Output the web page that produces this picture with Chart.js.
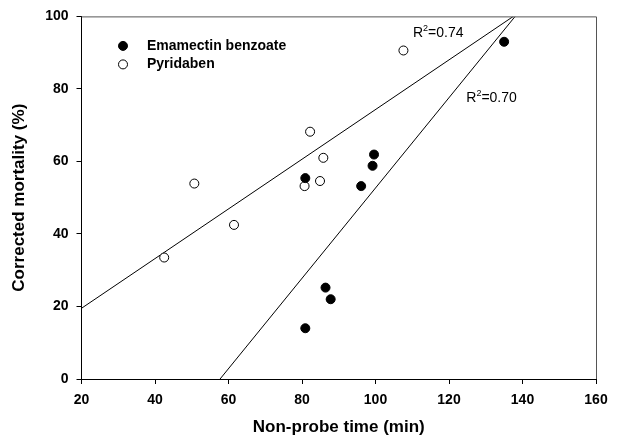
<!DOCTYPE html>
<html>
<head>
<meta charset="utf-8">
<script src="https://cdn.jsdelivr.net/npm/chart.js@4.4.1/dist/chart.umd.min.js"></script>
<style>
  html, body { margin: 0; padding: 0; background: #fff; }
</style>
</head>
<body>
<canvas id="chart" width="619" height="439"></canvas>
<script>
// values
const emamectinX = [80.9, 80.9, 86.4, 87.8, 96.1, 99.2, 99.6, 135.0];
const emamectinY = [55.4, 14.0, 25.2, 22.0, 53.2, 58.8, 61.9, 93.0];
const pyridabenX = [42.5, 50.7, 61.5, 80.7, 82.2, 84.9, 85.8, 107.6];
const pyridabenY = [33.5, 53.9, 42.5, 53.2, 68.2, 54.6, 61.0, 90.6];

// fitted lines, endpoints where they leave the frame
const pyridabenFitX = [20, 137.5];
const pyridabenFitY = [19.5, 100];
const emamectinFitX = [57.7, 138.0];
const emamectinFitY = [0, 100];

const xTicks = [20, 40, 60, 80, 100, 120, 140, 160];
const yTicks = [0, 20, 40, 60, 80, 100];

const seriesNames = ["Emamectin benzoate", "Pyridaben"];
const r2Labels = ["0.74", "0.70"];
const r2X = [110.2, 124.7];
const r2Y = [95.4, 77.4];

const FONT = "'Liberation Sans', Arial, Helvetica, sans-serif";

function pts(xs, ys) {
  return xs.map((x, i) => ({ x, y: ys[i] }));
}

const framePlugin = {
  id: "frame",
  afterDraw(chart) {
    const { ctx, chartArea: a } = chart;
    ctx.save();
    ctx.strokeStyle = "#555";
    ctx.lineWidth = 1;
    ctx.beginPath();
    ctx.moveTo(a.left, a.top + 0.5);
    ctx.lineTo(a.right + 0.5, a.top + 0.5);
    ctx.lineTo(a.right + 0.5, a.bottom);
    ctx.stroke();
    ctx.restore();
  },
};

// legend sits inside the plot, top left
const insideLegend = {
  id: "insideLegend",
  afterDatasetsDraw(chart) {
    const { ctx, chartArea: a } = chart;
    const rows = [
      { label: seriesNames[0], fill: "#000" },
      { label: seriesNames[1], fill: "#fff" },
    ];
    ctx.save();
    ctx.font = `bold 14px ${FONT}`;
    ctx.textBaseline = "middle";
    ctx.fillStyle = "#000";
    rows.forEach((r, i) => {
      const y = a.top + 29.5 + i * 18.5;
      ctx.beginPath();
      ctx.arc(a.left + 41.5, y, 4.5, 0, Math.PI * 2);
      ctx.fillStyle = r.fill;
      ctx.fill();
      ctx.strokeStyle = "#000";
      ctx.lineWidth = 1;
      ctx.stroke();
      ctx.fillStyle = "#000";
      ctx.fillText(r.label, a.left + 65.5, y);
    });
    ctx.restore();
  },
};

const r2Plugin = {
  id: "r2",
  afterDatasetsDraw(chart) {
    const { ctx } = chart;
    const xs = chart.scales.x, ys = chart.scales.y;
    ctx.save();
    ctx.fillStyle = "#000";
    ctx.textBaseline = "middle";
    r2Labels.forEach((v, i) => {
      let px = xs.getPixelForValue(r2X[i]);
      const py = ys.getPixelForValue(r2Y[i]);
      ctx.font = `14px ${FONT}`;
      ctx.fillText("R", px, py);
      px += ctx.measureText("R").width;
      ctx.font = `9px ${FONT}`;
      ctx.fillText("2", px, py - 5);
      px += ctx.measureText("2").width;
      ctx.font = `14px ${FONT}`;
      ctx.fillText("=" + v, px, py);
    });
    ctx.restore();
  },
};

new Chart(document.getElementById("chart"), {
  type: "scatter",
  data: {
    datasets: [
      {
        label: seriesNames[0],
        data: pts(emamectinX, emamectinY),
        backgroundColor: "#000",
        borderColor: "#000",
        borderWidth: 1,
        pointRadius: 4.5,
        order: 1,
      },
      {
        label: seriesNames[1],
        data: pts(pyridabenX, pyridabenY),
        backgroundColor: "#fff",
        borderColor: "#000",
        borderWidth: 1,
        pointRadius: 4.5,
        order: 1,
      },
      {
        label: "fit pyridaben",
        data: pts(pyridabenFitX, pyridabenFitY),
        showLine: true,
        borderColor: "#000",
        borderWidth: 1,
        pointRadius: 0,
        order: 2,
      },
      {
        label: "fit emamectin",
        data: pts(emamectinFitX, emamectinFitY),
        showLine: true,
        borderColor: "#000",
        borderWidth: 1,
        pointRadius: 0,
        order: 2,
      },
    ],
  },
  options: {
    responsive: false,
    animation: false,
    layout: { padding: { left: 0, top: 16, right: 23, bottom: 0 } },
    plugins: {
      legend: { display: false },
      tooltip: { enabled: false },
    },
    scales: {
      x: {
        type: "linear",
        min: xTicks[0],
        max: xTicks[xTicks.length - 1],
        afterBuildTicks: (s) => { s.ticks = xTicks.map((v) => ({ value: v })); },
        afterFit: (s) => { s.height = 60; },
        ticks: { color: "#000", padding: 8, font: { family: FONT, size: 14, weight: "bold" } },
        grid: { drawOnChartArea: false, color: "#000", tickLength: 5 },
        border: { color: "#000", width: 1 },
        title: {
          display: true,
          text: "Non-probe time (min)",
          color: "#000",
          font: { family: FONT, size: 17, weight: "bold" },
          padding: { top: 0, bottom: 1 },
        },
      },
      y: {
        type: "linear",
        min: yTicks[0],
        max: yTicks[yTicks.length - 1],
        afterBuildTicks: (s) => { s.ticks = yTicks.map((v) => ({ value: v })); },
        afterFit: (s) => { s.width = 81.5; },
        ticks: { color: "#000", padding: 8, font: { family: FONT, size: 14, weight: "bold" } },
        grid: { drawOnChartArea: false, color: "#000", tickLength: 5 },
        border: { color: "#000", width: 1 },
        title: {
          display: true,
          text: "Corrected mortality (%)",
          color: "#000",
          font: { family: FONT, size: 17, weight: "bold" },
          padding: { top: 9, bottom: 0 },
        },
      },
    },
  },
  plugins: [framePlugin, insideLegend, r2Plugin],
});
</script>
</body>
</html>
